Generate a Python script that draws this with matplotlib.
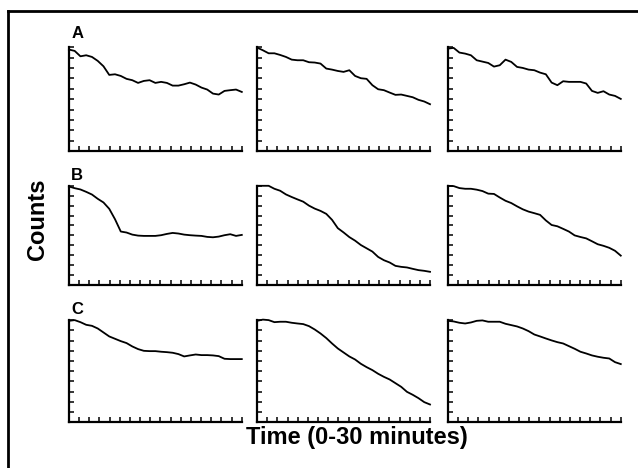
import numpy as np
import matplotlib
matplotlib.use("Agg")
import matplotlib.pyplot as plt
from matplotlib.lines import Line2D

plt.rcParams['font.family'] = ['Liberation Sans', 'DejaVu Sans']

# time in minutes, one reading per minute
minutes = list(range(0, 31))

row_labels = ["A", "B", "C"]

# counts (0-10 scale, one value per minute)
a1 = [9.78, 9.65, 9.13, 9.23, 9.07, 8.69, 8.17, 7.34, 7.40, 7.24, 6.96, 6.83, 6.57, 6.76, 6.83, 6.57,
      6.67, 6.57, 6.31, 6.31, 6.44, 6.60, 6.41, 6.12, 5.93, 5.54, 5.45, 5.80, 5.87, 5.93, 5.70]
a2 = [9.97, 9.71, 9.42, 9.42, 9.26, 9.07, 8.81, 8.75, 8.75, 8.56, 8.53, 8.43, 7.95, 7.85, 7.72, 7.63,
      7.79, 7.24, 7.02, 6.96, 6.35, 5.96, 5.87, 5.64, 5.42, 5.45, 5.32, 5.19, 4.94, 4.78, 4.52]
a3 = [9.87, 9.94, 9.49, 9.39, 9.23, 8.75, 8.62, 8.49, 8.14, 8.27, 8.81, 8.59, 8.11, 8.01, 7.85, 7.79,
      7.56, 7.40, 6.60, 6.35, 6.73, 6.67, 6.67, 6.67, 6.51, 5.80, 5.61, 5.77, 5.45, 5.32, 5.03]
b1 = [9.93, 9.76, 9.63, 9.39, 9.12, 8.69, 8.32, 7.68, 6.63, 5.39, 5.29, 5.08, 4.98, 4.95, 4.95, 4.95,
      5.02, 5.15, 5.25, 5.19, 5.08, 5.02, 4.98, 4.95, 4.85, 4.81, 4.88, 5.02, 5.12, 4.95, 5.05]
b2 = [10.0, 10.0, 10.0, 9.70, 9.50, 9.13, 8.87, 8.63, 8.40, 8.00, 7.70, 7.47, 7.17, 6.57, 5.73, 5.30,
      4.83, 4.47, 4.03, 3.70, 3.37, 2.83, 2.50, 2.27, 1.93, 1.83, 1.77, 1.63, 1.50, 1.43, 1.33]
b3 = [10.0, 9.97, 9.77, 9.70, 9.70, 9.61, 9.47, 9.21, 9.18, 8.82, 8.49, 8.26, 7.93, 7.63, 7.40, 7.24,
      7.07, 6.51, 6.05, 5.92, 5.66, 5.39, 5.00, 4.84, 4.70, 4.41, 4.11, 3.95, 3.75, 3.45, 2.96]
c1 = [9.93, 10.0, 9.80, 9.54, 9.44, 9.18, 8.79, 8.40, 8.17, 7.94, 7.75, 7.42, 7.16, 6.99, 6.96, 6.96,
      6.90, 6.86, 6.80, 6.67, 6.44, 6.54, 6.63, 6.57, 6.57, 6.54, 6.47, 6.21, 6.18, 6.18, 6.18]
c2 = [9.93, 10.05, 10.0, 9.80, 9.84, 9.84, 9.74, 9.67, 9.61, 9.41, 9.08, 8.69, 8.24, 7.71, 7.22, 6.83,
      6.44, 6.14, 5.72, 5.39, 5.10, 4.74, 4.44, 4.18, 3.82, 3.46, 2.97, 2.68, 2.35, 1.96, 1.73]
c3 = [9.93, 9.87, 9.74, 9.67, 9.77, 9.93, 9.97, 9.84, 9.84, 9.84, 9.64, 9.51, 9.38, 9.18, 8.92, 8.59,
      8.40, 8.20, 8.01, 7.84, 7.71, 7.45, 7.19, 6.90, 6.73, 6.54, 6.41, 6.31, 6.24, 5.88, 5.69]

series = [[a1, a2, a3], [b1, b2, b3], [c1, c2, c3]]

fig = plt.figure(figsize=(6.38, 4.68), dpi=100)

# panel positions (figure fractions)
col_left = [0.108, 0.403, 0.702]
col_width = 0.271
row_box = [(0.677, 0.222), (0.391, 0.212), (0.098, 0.218)]
label_y = [0.929, 0.626, 0.338]

for r in range(3):
    bottom, height = row_box[r]
    for c in range(3):
        ax = fig.add_axes([col_left[c], bottom, col_width, height])
        ax.plot(minutes, series[r][c], color="black", lw=1.3, clip_on=False)
        ax.set_xlim(0, 30)
        ax.set_ylim(0, 10)
        for s in ["top", "right"]:
            ax.spines[s].set_visible(False)
        for s in ["left", "bottom"]:
            ax.spines[s].set_linewidth(1.6)
        ax.set_xticks(np.linspace(0, 30, 18))
        ax.set_yticks(range(0, 11))
        ax.tick_params(direction="in", length=3.8, width=1.1,
                       labelbottom=False, labelleft=False)
    fig.text(0.121, label_y[r], row_labels[r], fontsize=12, fontweight="bold",
             ha="center", va="center")

fig.text(0.058, 0.532, "Counts", rotation=90, fontsize=17, fontweight="bold",
         ha="center", va="center")
fig.text(0.56, 0.066, "Time (0-30 minutes)", fontsize=17, fontweight="bold",
         ha="center", va="center")

# outer frame (top and left edges visible)
fig.add_artist(Line2D([0.0125, 1.0], [0.976, 0.976], color="black", lw=2))
fig.add_artist(Line2D([0.0125, 0.0125], [0.0, 0.976], color="black", lw=2))

fig.savefig("out.png", dpi=100)
